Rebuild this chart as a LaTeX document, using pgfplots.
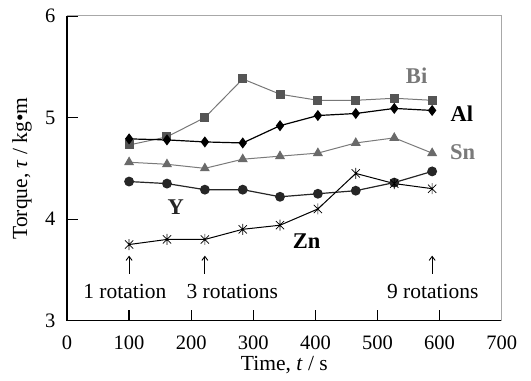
\documentclass[border=0pt]{standalone}
\usepackage{fontspec}
\setmainfont{Liberation Serif}
\usepackage{pgfplots}
\pgfplotsset{compat=1.18}
\usetikzlibrary{arrows.meta,calc}
\definecolor{bimark}{HTML}{555555}
\definecolor{biline}{HTML}{777777}
\definecolor{snmark}{HTML}{6A6A6A}
\definecolor{snline}{HTML}{7A7A7A}
\definecolor{frame}{HTML}{A8A8A8}
\pgfdeclareplotmark{xstar}{%
  \pgfpathmoveto{\pgfqpoint{-0.75\pgfplotmarksize}{-0.75\pgfplotmarksize}}%
  \pgfpathlineto{\pgfqpoint{0.75\pgfplotmarksize}{0.75\pgfplotmarksize}}%
  \pgfpathmoveto{\pgfqpoint{-0.75\pgfplotmarksize}{0.75\pgfplotmarksize}}%
  \pgfpathlineto{\pgfqpoint{0.75\pgfplotmarksize}{-0.75\pgfplotmarksize}}%
  \pgfpathmoveto{\pgfqpoint{0pt}{-\pgfplotmarksize}}%
  \pgfpathlineto{\pgfqpoint{0pt}{\pgfplotmarksize}}%
  \pgfusepathqstroke}
\begin{document}
\begin{tikzpicture}
\begin{axis}[
  scale only axis, width=434.7pt, height=304.7pt,
  xmin=0, xmax=700, ymin=3, ymax=6,
  axis x line=bottom, axis y line=left,
  axis line style={-, line width=1.3pt, black},
  xtick={0,100,...,700}, ytick={3,4,5,6},
  tick align=inside, major tick length=11pt,
  tick style={line width=1.2pt, black},
  ticklabel style={font=\fontsize{20.5}{24}\selectfont},
  xticklabel style={yshift=-12pt},
  yticklabel style={xshift=-8pt},
  /pgf/number format/assume math mode=true,
  xlabel={Time, \textit{t} / s},
  ylabel={Torque, \textit{τ} / kg•m},
  label style={font=\fontsize{21.5}{25}\selectfont},
  xlabel style={at={(axis description cs:0.5,0)}, anchor=center, yshift=-44.5pt},
  ylabel style={at={(axis description cs:0,0.5)}, anchor=center, yshift=45pt},
  clip=false,
]
\draw[color=frame, line width=1pt] (rel axis cs:0,1) -- (rel axis cs:1,1) -- (rel axis cs:1,0);
\addplot[color=biline, line width=1pt, mark=square*, mark size=4pt,
  mark options={fill=bimark, draw=bimark}] coordinates {
  (100,4.73) (161,4.81) (222,5.00) (283,5.38) (343,5.23) (404,5.17) (465,5.17) (527,5.19) (588,5.17)};
\addplot[color=black, line width=1.2pt, mark=diamond*, mark size=4.6pt,
  mark options={fill=black}] coordinates {
  (100,4.79) (161,4.78) (222,4.76) (283,4.75) (343,4.92) (404,5.02) (465,5.04) (527,5.09) (588,5.07)};
\addplot[color=snline, line width=1pt, mark=triangle*, mark size=4.8pt,
  mark options={fill=snmark, draw=snmark}] coordinates {
  (100,4.56) (161,4.54) (222,4.50) (283,4.59) (343,4.62) (404,4.65) (465,4.75) (527,4.80) (588,4.65)};
\addplot[color=black!85, line width=1.2pt, mark=*, mark size=4.3pt,
  mark options={fill=black!85}] coordinates {
  (100,4.37) (161,4.35) (222,4.29) (283,4.29) (343,4.22) (404,4.25) (465,4.28) (527,4.36) (588,4.47)};
\addplot[color=black, line width=1pt, mark=xstar, mark size=5.5pt,
  mark options={line width=0.7pt}] coordinates {
  (100,3.75) (161,3.80) (222,3.80) (283,3.90) (343,3.94) (404,4.10) (465,4.45) (527,4.35) (588,4.30)};
\node[font=\fontsize{22.5}{26}\selectfont\bfseries, color=biline] at (axis cs:563,5.41) {Bi};
\node[font=\fontsize{22.5}{26}\selectfont\bfseries, color=black] at (axis cs:636,5.04) {Al};
\node[font=\fontsize{22.5}{26}\selectfont\bfseries, color=snline] at (axis cs:637,4.66) {Sn};
\node[font=\fontsize{22.5}{26}\selectfont\bfseries, color=black!85] at (axis cs:175,4.12) {Y};
\node[font=\fontsize{22.5}{26}\selectfont\bfseries, color=black] at (axis cs:386,3.78) {Zn};
\draw[line width=0.9pt, -{Straight Barb[length=4pt, width=6pt]}] (axis cs:100,3.46) -- (axis cs:100,3.64);
\draw[line width=0.9pt, -{Straight Barb[length=4pt, width=6pt]}] (axis cs:222,3.46) -- (axis cs:222,3.64);
\draw[line width=0.9pt, -{Straight Barb[length=4pt, width=6pt]}] (axis cs:588,3.46) -- (axis cs:588,3.64);
\node[font=\fontsize{21.5}{25}\selectfont] at (axis cs:93,3.286) {1 rotation};
\node[font=\fontsize{21.5}{25}\selectfont] at (axis cs:266,3.286) {3 rotations};
\node[font=\fontsize{21.5}{25}\selectfont] at (axis cs:589,3.286) {9 rotations};
\end{axis}
\path ($(current axis.south west)+(-67pt,-60.3pt)$) rectangle ($(current axis.north east)+(29.3pt,16pt)$);
\end{tikzpicture}
\end{document}
